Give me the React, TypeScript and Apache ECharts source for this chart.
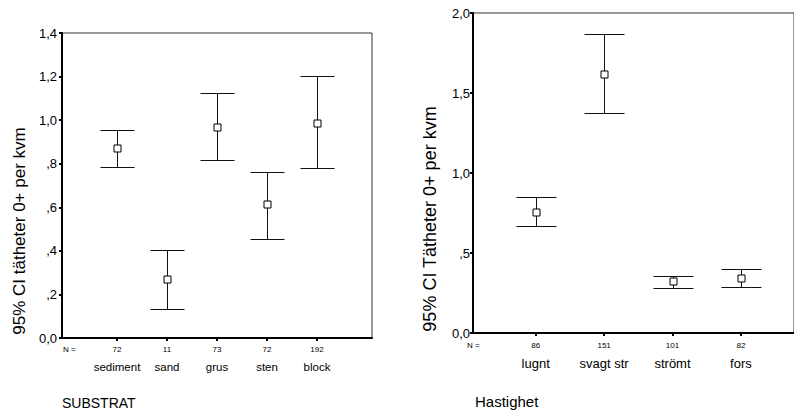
import React, { useEffect, useRef } from "react";
import * as echarts from "echarts";

const substratCategories = ["sediment", "sand", "grus", "sten", "block"];
const substratN = [72, 11, 73, 72, 192];
const substratMean = [0.872, 0.271, 0.97, 0.613, 0.988];
const substratLow = [0.785, 0.133, 0.817, 0.456, 0.779];
const substratHigh = [0.955, 0.402, 1.126, 0.763, 1.204];

const hastighetCategories = ["lugnt", "svagt str", "strömt", "fors"];
const hastighetN = [86, 151, 101, 82];
const hastighetMean = [0.756, 1.621, 0.323, 0.344];
const hastighetLow = [0.666, 1.375, 0.281, 0.288];
const hastighetHigh = [0.848, 1.871, 0.358, 0.402];

const FONT = "'Liberation Sans', Arial, sans-serif";

const fmtTick = (v: number) => {
  if (Math.abs(v) < 1e-9) return "0,0";
  const s = v.toFixed(1).replace(".", ",");
  return v < 1 ? s.slice(1) : s;
};

const makeRenderItem = (hw: number) => (params: any, api: any) => {
  const x = api.value(0);
  const lo = api.coord([x, api.value(1)]);
  const hi = api.coord([x, api.value(2)]);
  const m = api.coord([x, api.value(3)]);
  const cx = Math.round(lo[0]) + 0.5;
  const yl = Math.round(lo[1]) + 0.5;
  const yh = Math.round(hi[1]) + 0.5;
  const ym = Math.round(m[1]);
  const st = { stroke: "#111", lineWidth: 1 };
  return {
    type: "group",
    children: [
      { type: "line", shape: { x1: cx, y1: yh, x2: cx, y2: yl }, style: st },
      { type: "line", shape: { x1: cx - hw, y1: yh, x2: cx + hw, y2: yh }, style: st },
      { type: "line", shape: { x1: cx - hw, y1: yl, x2: cx + hw, y2: yl }, style: st },
      {
        type: "rect",
        shape: { x: cx - 3.5, y: ym - 3, width: 7, height: 7 },
        style: { fill: "#fff", stroke: "#000", lineWidth: 1 },
      },
    ],
  };
};

export default function App() {
  const ref = useRef<HTMLDivElement>(null);
  useEffect(() => {
    if (!ref.current) return;
    const chart = echarts.init(ref.current, null, { renderer: "svg" });

    const frameGrid = (left: number, top: number, width: number, height: number) => ({
      left,
      top,
      width,
      height,
      show: true,
      borderColor: "#333",
      borderWidth: 1,
      backgroundColor: "#fff",
    });

    const frameX = (gridIndex: number) => ({
      type: "value",
      gridIndex,
      min: 0,
      max: 1,
      axisLine: { show: true, lineStyle: { color: "#000", width: 2 } },
      axisTick: { show: false },
      axisLabel: { show: false },
      splitLine: { show: false },
    });

    const frameY = (gridIndex: number, max: number, interval: number, margin: number) => ({
      type: "value",
      gridIndex,
      min: 0,
      max,
      interval,
      axisLine: { show: true, lineStyle: { color: "#000", width: 2 } },
      axisTick: { show: true, length: 3, lineStyle: { color: "#000", width: 2 } },
      axisLabel: {
        show: true,
        margin,
        color: "#000",
        fontSize: 13,
        fontFamily: FONT,
        formatter: fmtTick,
      },
      splitLine: { show: false },
    });

    const dataX = (gridIndex: number, cats: string[], ns: number[], catSize: number, margin: number) => ({
      type: "category",
      gridIndex,
      data: cats,
      boundaryGap: true,
      axisLine: { show: false },
      axisTick: {
        show: true,
        alignWithLabel: true,
        length: 3,
        lineStyle: { color: "#000", width: 2 },
      },
      axisLabel: {
        show: true,
        margin,
        interval: 0,
        formatter: (v: string, i: number) => `{n|${ns[i]}}\n{c|${v}}`,
        rich: {
          n: { fontSize: 8, lineHeight: 12, color: "#000", fontFamily: FONT },
          c: { fontSize: catSize, lineHeight: 24, color: "#000", fontFamily: FONT },
        },
      },
      splitLine: { show: false },
    });

    const dataY = (gridIndex: number, max: number) => ({
      type: "value",
      gridIndex,
      min: 0,
      max,
      show: false,
      splitLine: { show: false },
    });

    const sData = substratCategories.map((_, i) => [i, substratLow[i], substratHigh[i], substratMean[i]]);
    const hData = hastighetCategories.map((_, i) => [i, hastighetLow[i], hastighetHigh[i], hastighetMean[i]]);

    chart.setOption({
      animation: false,
      backgroundColor: "#fff",
      textStyle: { fontFamily: FONT },
      grid: [
        frameGrid(62, 33, 310, 305),
        { left: 92, top: 33, width: 250, height: 305 },
        frameGrid(473, 13, 330, 320),
        { left: 501.5, top: 13, width: 273.6, height: 320 },
      ],
      xAxis: [
        frameX(0),
        dataX(1, substratCategories, substratN, 11.5, 5),
        frameX(2),
        dataX(3, hastighetCategories, hastighetN, 13, 6),
      ],
      yAxis: [frameY(0, 1.4, 0.2, 5), dataY(1, 1.4), frameY(2, 2, 0.5, 3), dataY(3, 2)],
      series: [
        {
          type: "custom",
          xAxisIndex: 1,
          yAxisIndex: 1,
          renderItem: makeRenderItem(17),
          encode: { x: 0, y: [1, 2, 3] },
          data: sData,
          z: 5,
        },
        {
          type: "custom",
          xAxisIndex: 3,
          yAxisIndex: 3,
          renderItem: makeRenderItem(20),
          encode: { x: 0, y: [1, 2, 3] },
          data: hData,
          z: 5,
        },
      ],
      graphic: [
        {
          type: "text",
          x: 19,
          y: 231,
          rotation: Math.PI / 2,
          style: {
            text: "95% CI tätheter 0+ per kvm",
            fontSize: 17,
            fontFamily: FONT,
            fill: "#000",
            align: "center",
            verticalAlign: "middle",
          },
        },
        {
          type: "text",
          x: 430,
          y: 219,
          rotation: Math.PI / 2,
          style: {
            text: "95% CI Tätheter 0+ per kvm",
            fontSize: 18,
            fontFamily: FONT,
            fill: "#000",
            align: "center",
            verticalAlign: "middle",
          },
        },
        {
          type: "text",
          x: 63,
          y: 349,
          style: { text: "N =", fontSize: 8, fontFamily: FONT, fill: "#000", verticalAlign: "middle" },
        },
        {
          type: "text",
          x: 467,
          y: 345,
          style: { text: "N =", fontSize: 8, fontFamily: FONT, fill: "#000", verticalAlign: "middle" },
        },
        {
          type: "text",
          x: 62,
          y: 403,
          style: { text: "SUBSTRAT", fontSize: 14, fontFamily: FONT, fill: "#000", verticalAlign: "middle" },
        },
        {
          type: "text",
          x: 475,
          y: 401,
          style: { text: "Hastighet", fontSize: 15, fontFamily: FONT, fill: "#000", verticalAlign: "middle" },
        },
      ],
    });
    return () => chart.dispose();
  }, []);
  return (
    <div
      ref={ref}
      style={{ position: "fixed", left: 0, top: 0, width: 794, height: 412, background: "#fff" }}
    />
  );
}
